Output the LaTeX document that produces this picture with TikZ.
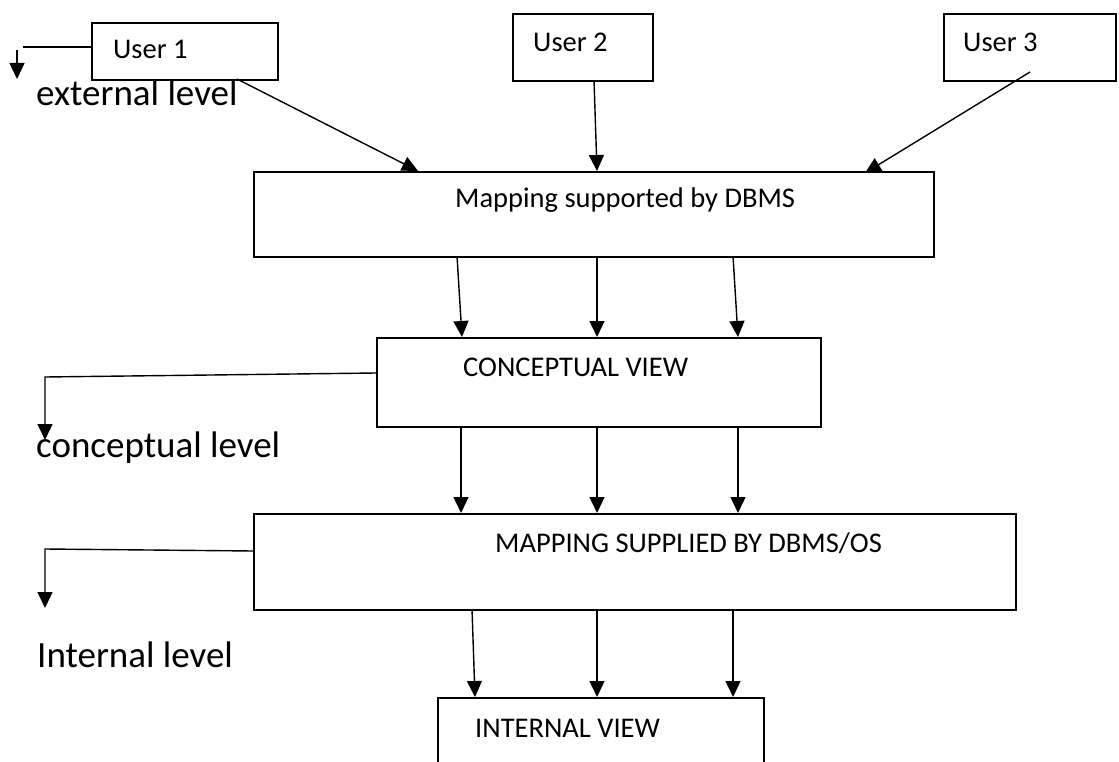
\documentclass[tikz,border=0pt]{standalone}
\usepackage{fontspec}
\setmainfont{Carlito}
\usetikzlibrary{arrows.meta}
\begin{document}
\begin{tikzpicture}[x=1pt,y=-1pt,
  box/.style={draw, line width=1.7pt, inner sep=0pt, anchor=north west},
  lbl/.style={anchor=base west, inner sep=0pt, font=\fontsize{28.5}{34}\selectfont},
  lvl/.style={anchor=base west, inner sep=0pt, font=\fontsize{37}{44}\selectfont},
  conn/.style={line width=1.4pt},
  arr/.style={line width=1.4pt, -{Triangle[length=16pt,width=15pt]}}]
\useasboundingbox (0,0) rectangle (1119,762);
% boxes
\node[box, minimum width=186pt, minimum height=57pt] (u1) at (91,22) {};
\node[box, minimum width=140pt, minimum height=67pt] (u2) at (512,13) {};
\node[box, minimum width=172pt, minimum height=67pt] (u3) at (943,13) {};
\node[box, minimum width=680pt, minimum height=85pt] (m1) at (253,171) {};
\node[box, minimum width=444pt, minimum height=89pt] (cv) at (376,337) {};
\node[box, minimum width=762pt, minimum height=96pt] (m2) at (253,513) {};
\node[box, minimum width=326pt, minimum height=80pt] (iv) at (437,697) {};
% texts
\node[lbl] (t1) at (113,59) {User 1};
\node[lbl] (t2) at (533,52) {User 2};
\node[lbl] (t3) at (963,52) {User 3};
\node[lbl] (tm1) at (455,208) {Mapping supported by DBMS};
\node[lbl] (tcv) at (463,376) {CONCEPTUAL VIEW};
\node[lbl] (tm2) at (495,552) {MAPPING SUPPLIED BY DBMS/OS};
\node[lbl] (tiv) at (475,737) {INTERNAL VIEW};
\node[lvl] (le) at (36,106) {external level};
\node[lvl] (lc) at (36,457) {conceptual level};
\node[lvl] (li) at (37,667) {Internal level};
% level pointers
\coordinate (e1) at (23,47);
\coordinate (e2) at (17,79);
\draw[conn] (u1.west |- 0,47) -- (e1);
\draw[arr] (17,50) -- (e2);
\coordinate (c1) at (45,377);
\coordinate (c2) at (45,440);
\draw[arr] (cv.west |- 0,373) -- (c1) -- (c2);
\coordinate (i1) at (45,549);
\coordinate (i2) at (45,608);
\draw[arr] (m2.west |- 0,551) -- (i1) -- (i2);
% users to mapping
\draw[arr] (237,79) -- (418,171);
\draw[arr] (594,80) -- (597,171);
\draw[arr] (1030,72) -- (865,173);
% mapping to conceptual
\draw[arr] (457,256) -- (462,337);
\draw[arr] (597,256) -- (597,337);
\draw[arr] (733,256) -- (738,337);
% conceptual to mapping 2
\draw[arr] (461,426) -- (461,513);
\draw[arr] (597,426) -- (597,513);
\draw[arr] (738,426) -- (738,513);
% mapping 2 to internal
\draw[arr] (472,609) -- (475,697);
\draw[arr] (597,609) -- (597,697);
\draw[arr] (733,609) -- (733,697);
\end{tikzpicture}
\end{document}
